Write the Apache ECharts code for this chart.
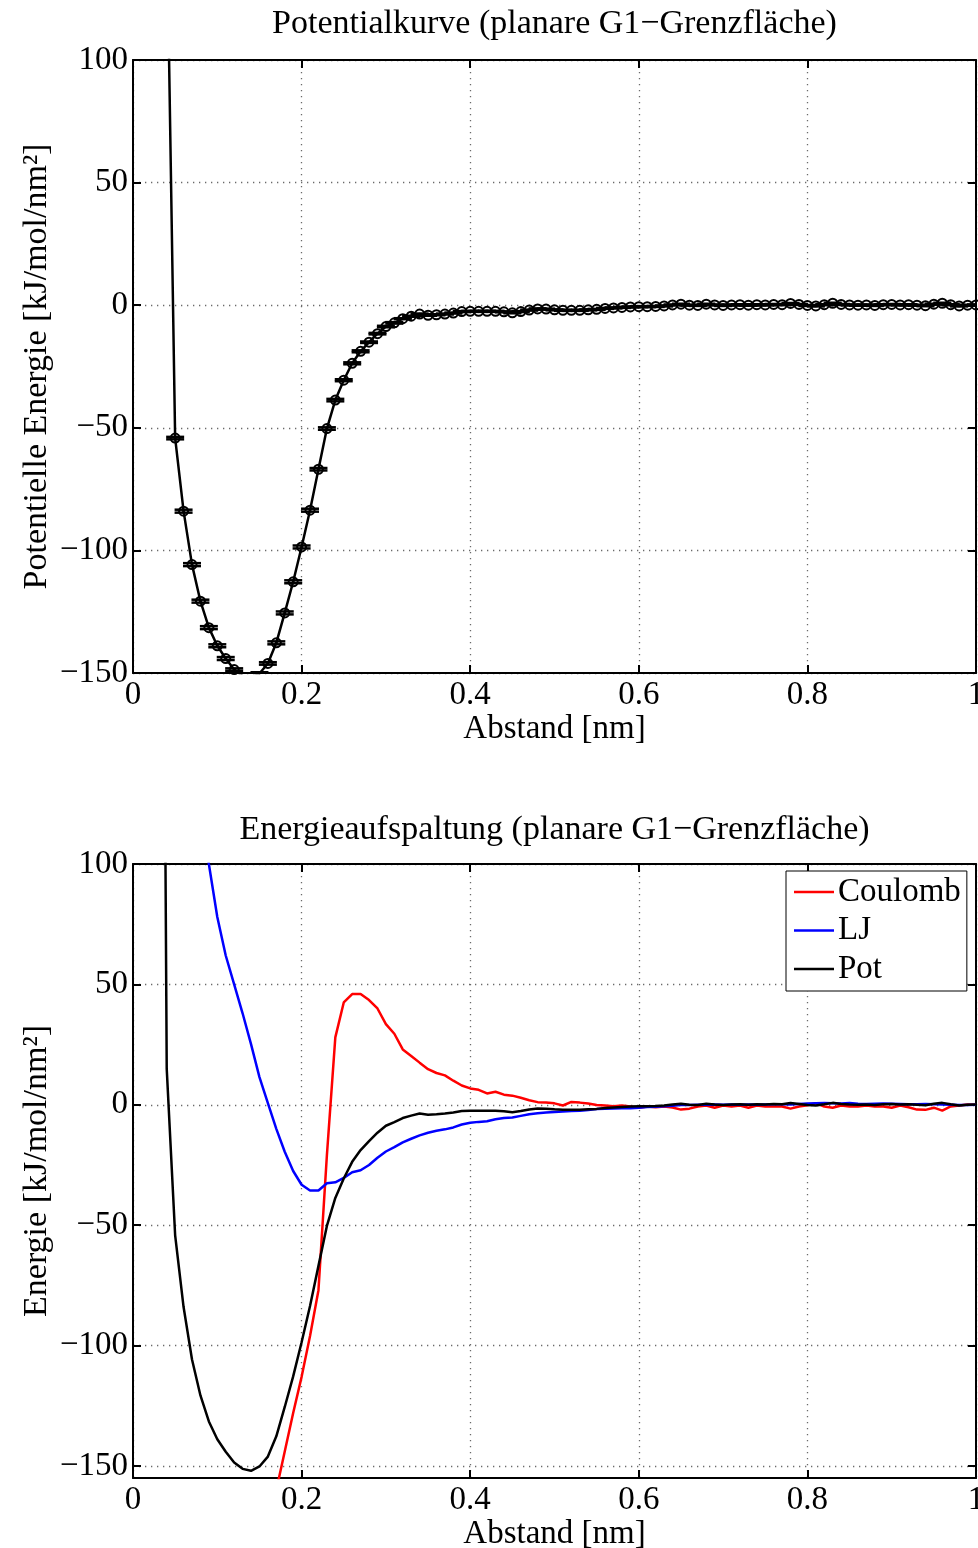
<!DOCTYPE html>
<html>
<head>
<meta charset="utf-8">
<script src="https://cdn.jsdelivr.net/npm/echarts@6/dist/echarts.min.js"></script>
<style>
  html, body { margin: 0; padding: 0; background: #fff; overflow: hidden; }
  #chart { width: 978px; height: 1548px; }
</style>
</head>
<body>
<div id="chart"></div>
<script>
// Abstand grid (nm), 0.03 ... 1.00 in steps of 0.01
const abstand = Array.from({ length: 98 }, (_, i) => +(0.03 + 0.01 * i).toFixed(2));

// Potential (kJ/mol/nm^2) for 0.05 ... 1.00
const potential = [
  -54.2, -84.0, -105.8, -120.7, -131.5, -138.9, -144.1, -148.6, -151.2, -152.0,
  -150.2, -146.1, -137.7, -125.5, -112.8, -98.6, -83.6, -66.9, -50.3, -38.7,
  -30.6, -23.7, -18.8, -15.1, -11.6, -8.7, -7.2, -5.5, -4.5, -3.6,
  -4.1, -3.9, -3.6, -3.2, -2.6, -2.5, -2.5, -2.5, -2.5, -2.7,
  -3.1, -2.6, -2.0, -1.5, -1.6, -1.9, -2.1, -2.1, -2.1, -1.9,
  -1.7, -1.3, -1.1, -0.9, -0.7, -0.6, -0.6, -0.5, -0.3, 0.1,
  0.4, 0.0, -0.1, 0.4, 0.1, -0.1, 0.1, 0.2, 0.0, 0.2,
  0.1, 0.3, 0.2, 0.7, 0.3, -0.1, -0.3, 0.2, 0.8, 0.3,
  0.1, 0.0, 0.1, -0.1, 0.2, 0.3, 0.1, 0.2, 0.0, -0.2,
  0.4, 0.8, 0.2, -0.3, 0.0, 0.1
];
// steep repulsive start of the curves (0.03, 0.04)
const potentialStartOben = [null, 160];
const potStartUnten = [600, 15];

// error of the potential, 0.05 ... 1.00
const potentialFehler = [
  0.5, 0.6, 0.6, 0.6, 0.6, 0.6, 0.6, 0.5, 0.5, 0.5,
  0.5, 0.5, 0.6, 0.6, 0.6, 0.6, 0.6, 0.5, 0.5, 0.5,
  0.4, 0.4, 0.4, 0.3, 0.3, 0.3, 0.3, 0.2, 0.2, 0.2,
  0.2, 0.2, 0.2, 0.2, 0.2, 0.2, 0.2, 0.2, 0.2, 0.2,
  0.2, 0.2, 0.2, 0.2, 0.2, 0.2, 0.2, 0.2, 0.2, 0.2,
  0.2, 0.2, 0.2, 0.2, 0.2, 0.2, 0.2, 0.2, 0.2, 0.2,
  0.2, 0.2, 0.2, 0.2, 0.2, 0.2, 0.2, 0.2, 0.2, 0.2,
  0.2, 0.2, 0.2, 0.2, 0.2, 0.2, 0.2, 0.2, 0.2, 0.2,
  0.2, 0.2, 0.2, 0.2, 0.2, 0.2, 0.2, 0.2, 0.2, 0.2,
  0.2, 0.2, 0.2, 0.2, 0.2, 0.2
];

// Coulomb part, 0.16 ... 1.00
const coulomb = [
  -178, -160, -144, -128, -113, -96, -77, -21, 28, 42.5,
  46, 46, 43.5, 40, 33.5, 29.5, 23, 20.3, 17.5, 14.8,
  13.2, 12.2, 10, 8, 6.8, 6.2, 4.7, 5.4, 4.2, 3.8,
  2.9, 1.9, 1.1, 0.9, 0.6, -0.3, 1.2, 0.9, 0.5, -0.1,
  -0.3, -0.6, -0.3, -0.7, -1.2, -0.7, -1.0, -0.7, -1.1, -2.0,
  -1.6, -0.7, -0.3, -1.2, -0.3, -0.7, -0.3, -1.2, -0.3, -0.7,
  -0.7, -0.7, -1.6, -0.7, -0.2, 0.7, -0.7, -1.2, -0.3, -0.7,
  -0.7, -0.3, -0.7, -0.7, -1.2, -0.3, -1.0, -2.0, -2.1, -1.2,
  -2.4, -0.7, -0.3, 0.1, 0.0
];

// Lennard-Jones part, 0.08 ... 1.00
const lj = [
  125, 100, 78, 62, 50, 38, 25.2, 11.5, 0.7, -10,
  -19.5, -27.5, -33.2, -35.6, -35.6, -32.6, -32.2, -30.4, -28, -27.2,
  -25, -22, -19.4, -17.6, -15.6, -14.1, -12.7, -11.6, -10.8, -10.2,
  -9.4, -8.2, -7.5, -7.1, -6.8, -6.0, -5.5, -5.3, -4.6, -3.9,
  -3.5, -3.2, -3.0, -2.8, -2.6, -2.5, -2.2, -1.8, -1.6, -1.5,
  -1.4, -1.4, -1.2, -0.9, -0.8, -0.6, -0.4, -0.1, -0.1, 0.0,
  0.0, 0.1, 0.0, 0.1, 0.0, 0.1, 0.0, 0.1, 0.2, 0.2,
  0.1, 0.3, 0.5, 0.6, 0.7, 0.6, 0.5, 0.7, 0.4, 0.3,
  0.4, 0.5, 0.4, 0.3, 0.2, 0.2, 0.3, 0.2, 0.1, 0.0,
  -0.1, -0.1, 0.0
];

const xTicks = [0, 0.2, 0.4, 0.6, 0.8, 1];
const energieTicks = [-150, -100, -50, 0, 50, 100];

// pair a value list with the Abstand grid, starting at a given distance
function paare(werte, start) {
  const i0 = abstand.indexOf(start);
  return werte.map((v, i) => [abstand[i0 + i], v]);
}

const schrift = 'Liberation Serif';
const gross = 33;
const gitter = { show: true, lineStyle: { color: '#6a6a6a', width: 1.3, type: [1.3, 4.7] } };

const topData = paare(potentialStartOben.concat(potential), 0.03).filter(p => p[1] !== null);
const bottomPot = paare(potStartUnten.concat(potential), 0.03);
const fehlerData = paare(potential, 0.05).map((p, i) => [p[0], p[1], potentialFehler[i]]);

function minusLabel(v) {
  return v < 0 ? '\u2212' + Math.abs(v) : String(v);
}

function xAchse(grid, unten) {
  return {
    gridIndex: grid, type: 'value', min: 0, max: 1, interval: 0.2,
    position: unten ? 'bottom' : 'top',
    axisLine: { show: true, onZero: false, lineStyle: { color: '#000', width: 2 } },
    axisTick: { show: true, inside: true, length: 8, lineStyle: { color: '#000', width: 2 } },
    axisLabel: unten ? {
      show: true, color: '#000', fontFamily: schrift, fontSize: gross, margin: 6,
      formatter: v => String(+v.toFixed(1)), customValues: xTicks
    } : { show: false },
    splitLine: unten ? gitter : { show: false },
    name: unten ? 'Abstand [nm]' : '',
    nameLocation: 'middle', nameGap: 40, nameMoveOverlap: false,
    nameTextStyle: { color: '#000', fontFamily: schrift, fontSize: gross }
  };
}

function yAchse(grid, links, min, name) {
  return {
    gridIndex: grid, type: 'value', min: min, max: 100,
    position: links ? 'left' : 'right',
    axisLine: { show: true, onZero: false, lineStyle: { color: '#000', width: 2 } },
    axisTick: { show: true, inside: true, length: 8, customValues: energieTicks, lineStyle: { color: '#000', width: 2 } },
    axisLabel: links ? {
      show: true, color: '#000', fontFamily: schrift, fontSize: gross, margin: 5,
      formatter: minusLabel, customValues: energieTicks
    } : { show: false, customValues: energieTicks },
    splitLine: links ? gitter : { show: false },
    name: links ? name : '',
    nameLocation: 'middle', nameGap: 79, nameRotate: 90, nameMoveOverlap: false,
    nameTextStyle: { color: '#000', fontFamily: schrift, fontSize: 34 }
  };
}

const chart = echarts.init(document.getElementById('chart'), null, { renderer: 'canvas' });

chart.setOption({
  animation: false,
  backgroundColor: '#fff',
  title: [
    {
      text: 'Potentialkurve (planare G1\u2212Grenzfläche)',
      left: 554.5, top: 7, textAlign: 'center', padding: 0,
      textStyle: { color: '#000', fontFamily: schrift, fontSize: 34, fontWeight: 'normal' }
    },
    {
      text: 'Energieaufspaltung (planare G1\u2212Grenzfläche)',
      left: 554.5, top: 813, textAlign: 'center', padding: 0,
      textStyle: { color: '#000', fontFamily: schrift, fontSize: 34, fontWeight: 'normal' }
    }
  ],
  legend: {
    data: ['Coulomb', 'LJ', 'Pot'],
    orient: 'vertical', left: 786, top: 871,
    padding: [3, 6, 4, 8],
    icon: 'rect', itemWidth: 40, itemHeight: 2.5, itemGap: 2.5,
    backgroundColor: '#fff', borderColor: '#000', borderWidth: 1, borderRadius: 0,
    selectedMode: false,
    textStyle: { color: '#000', fontFamily: schrift, fontSize: gross, lineHeight: 36, padding: [0, 0, 0, -1] }
  },
  grid: [
    { left: 133, top: 60, width: 843, height: 613, outerBoundsMode: 'none' },
    { left: 133, top: 864, width: 843, height: 614, outerBoundsMode: 'none' }
  ],
  xAxis: [xAchse(0, true), xAchse(0, false), xAchse(1, true), xAchse(1, false)],
  yAxis: [
    yAchse(0, true, -150, 'Potentielle Energie [kJ/mol/nm\u00B2]'),
    yAchse(0, false, -150, ''),
    yAchse(1, true, -155, 'Energie [kJ/mol/nm\u00B2]'),
    yAchse(1, false, -155, '')
  ],
  series: [
    {
      name: 'Potential', type: 'line', xAxisIndex: 0, yAxisIndex: 0,
      data: topData, clip: true,
      symbol: 'circle', symbolSize: 9, showSymbol: true, showAllSymbol: true,
      itemStyle: { color: 'rgba(0,0,0,0)', borderColor: '#000', borderWidth: 2 },
      lineStyle: { color: '#000', width: 2.5 },
      emphasis: { disabled: true }, z: 3
    },
    {
      name: 'Fehler', type: 'custom', xAxisIndex: 0, yAxisIndex: 0,
      data: fehlerData, clip: true, z: 4,
      renderItem: function (params, api) {
        const x = api.value(0), y = api.value(1), e = api.value(2);
        const o = api.coord([x, y + e]);
        const u = api.coord([x, y - e]);
        const hb = 9;
        const st = { stroke: '#000', lineWidth: 2.5 };
        return {
          type: 'group',
          children: [
            { type: 'line', shape: { x1: o[0], y1: o[1], x2: u[0], y2: u[1] }, style: st },
            { type: 'line', shape: { x1: o[0] - hb, y1: o[1], x2: o[0] + hb, y2: o[1] }, style: st },
            { type: 'line', shape: { x1: u[0] - hb, y1: u[1], x2: u[0] + hb, y2: u[1] }, style: st }
          ]
        };
      }
    },
    {
      name: 'Coulomb', type: 'line', xAxisIndex: 2, yAxisIndex: 2,
      data: paare(coulomb, 0.16), clip: true, symbol: 'none',
      color: '#ff0000', lineStyle: { color: '#ff0000', width: 2.5 }, emphasis: { disabled: true }
    },
    {
      name: 'LJ', type: 'line', xAxisIndex: 2, yAxisIndex: 2,
      data: paare(lj, 0.08), clip: true, symbol: 'none',
      color: '#0000ff', lineStyle: { color: '#0000ff', width: 2.5 }, emphasis: { disabled: true }
    },
    {
      name: 'Pot', type: 'line', xAxisIndex: 2, yAxisIndex: 2,
      data: bottomPot, clip: true, symbol: 'none',
      color: '#000', lineStyle: { color: '#000', width: 2.5 }, emphasis: { disabled: true }
    }
  ]
});
</script>
</body>
</html>
